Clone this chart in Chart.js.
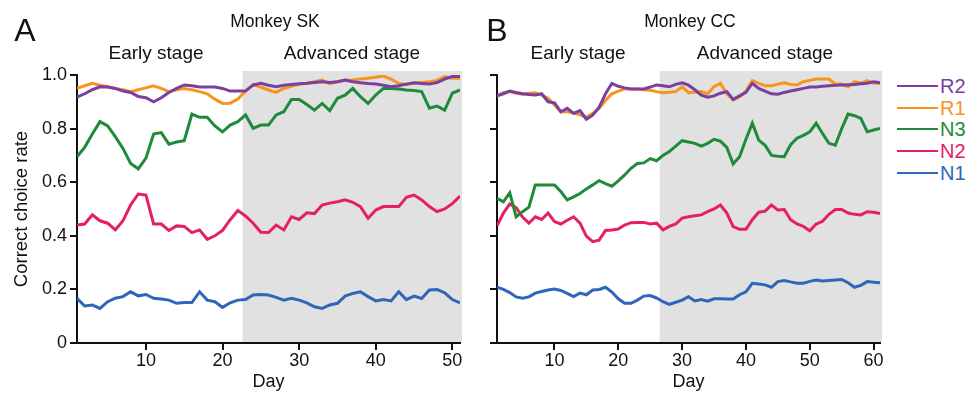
<!DOCTYPE html>
<html>
<head>
<meta charset="utf-8">
<script src="https://cdn.jsdelivr.net/npm/chart.js@4.4.1/dist/chart.umd.min.js"></script>
<style>
  body { margin: 0; background: #fff; width: 969px; height: 393px; position: relative; overflow: hidden; font-family: 'Liberation Sans', Arial, sans-serif; color: #111; }
  .box { position: absolute; top: 0; width: 470px; height: 393px; }
  .t { position: absolute; white-space: nowrap; transform: translate(-50%, -50%); }
  .leg { position: absolute; left: 897px; width: 70px; height: 22px; }
  .leg span.l { position: absolute; left: 0; top: 10px; width: 41px; height: 2px; }
  .leg span.n { position: absolute; left: 43px; top: 0; font-size: 20px; line-height: 22px; }
</style>
</head>
<body>
<div class="box" style="left:0"><canvas id="chartA" width="470" height="393"></canvas></div>
<div class="box" style="left:420px"><canvas id="chartB" width="470" height="393"></canvas></div>

<div class="t" style="left:25px;top:30px;font-size:32px">A</div>
<div class="t" style="left:275px;top:21px;font-size:17.5px">Monkey SK</div>
<div class="t" style="left:156px;top:53px;font-size:19px">Early stage</div>
<div class="t" style="left:352px;top:53px;font-size:19px">Advanced stage</div>
<div class="t" style="left:497px;top:30px;font-size:32px">B</div>
<div class="t" style="left:690px;top:21px;font-size:17.5px">Monkey CC</div>
<div class="t" style="left:578px;top:53px;font-size:19px">Early stage</div>
<div class="t" style="left:765px;top:53px;font-size:19px">Advanced stage</div>

<div id="legend"></div>

<script>
// series names and colours
const seriesNames = ['R2', 'R1', 'N3', 'N2', 'N1'];
const seriesColors = ['#7b3fa1', '#f7941d', '#1e8a3a', '#e6205f', '#3066ba'];

// Monkey SK, days 1..51
const skR2 = [0.917,0.93,0.945,0.956,0.955,0.95,0.94,0.935,0.92,0.915,0.90,0.915,0.935,0.95,0.963,0.96,0.955,0.955,0.955,0.95,0.94,0.94,0.94,0.963,0.969,0.962,0.956,0.962,0.965,0.967,0.969,0.972,0.975,0.972,0.975,0.981,0.975,0.971,0.968,0.966,0.962,0.956,0.96,0.966,0.971,0.968,0.966,0.972,0.985,0.994,0.994];
const skR1 = [0.95,0.96,0.969,0.962,0.956,0.95,0.945,0.938,0.945,0.952,0.96,0.95,0.938,0.945,0.95,0.945,0.938,0.93,0.91,0.894,0.895,0.91,0.94,0.963,0.955,0.944,0.935,0.95,0.958,0.965,0.969,0.975,0.981,0.968,0.975,0.98,0.981,0.985,0.988,0.992,0.996,0.985,0.968,0.965,0.969,0.972,0.975,0.98,0.994,0.988,0.988];
const skN3 = [0.695,0.73,0.78,0.826,0.81,0.77,0.726,0.67,0.65,0.69,0.78,0.785,0.742,0.75,0.755,0.854,0.842,0.842,0.81,0.788,0.813,0.826,0.851,0.801,0.813,0.813,0.851,0.863,0.909,0.909,0.89,0.869,0.894,0.867,0.913,0.925,0.95,0.919,0.894,0.925,0.95,0.95,0.948,0.944,0.942,0.938,0.876,0.884,0.869,0.932,0.944];
const skN2 = [0.44,0.444,0.478,0.456,0.447,0.422,0.456,0.515,0.556,0.552,0.444,0.444,0.42,0.437,0.435,0.412,0.422,0.387,0.40,0.42,0.46,0.494,0.474,0.447,0.413,0.412,0.44,0.422,0.471,0.461,0.486,0.483,0.515,0.522,0.527,0.534,0.525,0.509,0.465,0.496,0.509,0.509,0.509,0.544,0.552,0.534,0.509,0.49,0.5,0.52,0.548];
const skN1 = [0.167,0.138,0.142,0.129,0.154,0.167,0.173,0.191,0.176,0.181,0.167,0.164,0.16,0.148,0.151,0.151,0.191,0.16,0.154,0.133,0.15,0.16,0.162,0.179,0.181,0.179,0.17,0.16,0.167,0.16,0.15,0.135,0.129,0.142,0.148,0.175,0.185,0.191,0.173,0.157,0.162,0.157,0.191,0.162,0.175,0.166,0.198,0.2,0.187,0.162,0.15];

// Monkey CC, days 1..61
const ccR2 = [0.922,0.93,0.94,0.935,0.93,0.927,0.925,0.93,0.90,0.896,0.863,0.876,0.857,0.867,0.835,0.85,0.88,0.93,0.969,0.958,0.952,0.948,0.948,0.948,0.955,0.963,0.96,0.956,0.965,0.971,0.962,0.945,0.925,0.917,0.922,0.932,0.938,0.909,0.922,0.935,0.969,0.95,0.94,0.93,0.928,0.935,0.94,0.945,0.95,0.955,0.955,0.958,0.96,0.962,0.963,0.964,0.965,0.967,0.969,0.975,0.971];
const ccR1 = [0.922,0.935,0.938,0.932,0.928,0.932,0.934,0.925,0.913,0.888,0.863,0.863,0.858,0.851,0.842,0.857,0.875,0.905,0.93,0.94,0.948,0.948,0.948,0.945,0.943,0.938,0.934,0.936,0.938,0.956,0.934,0.936,0.938,0.93,0.956,0.969,0.93,0.907,0.919,0.94,0.979,0.969,0.96,0.96,0.966,0.971,0.965,0.963,0.975,0.98,0.985,0.985,0.985,0.966,0.966,0.955,0.975,0.969,0.979,0.969,0.969];
const ccN3 = [0.54,0.527,0.561,0.471,0.49,0.507,0.59,0.59,0.59,0.59,0.565,0.534,0.545,0.558,0.575,0.59,0.606,0.595,0.585,0.605,0.627,0.652,0.67,0.672,0.688,0.68,0.70,0.714,0.735,0.755,0.75,0.745,0.735,0.745,0.76,0.753,0.73,0.668,0.695,0.76,0.82,0.757,0.738,0.70,0.697,0.695,0.74,0.764,0.775,0.788,0.82,0.782,0.745,0.738,0.80,0.854,0.848,0.838,0.788,0.795,0.801];
const ccN2 = [0.437,0.485,0.519,0.505,0.47,0.447,0.471,0.461,0.485,0.453,0.444,0.458,0.471,0.447,0.399,0.378,0.384,0.42,0.422,0.425,0.44,0.449,0.45,0.45,0.444,0.447,0.422,0.435,0.444,0.466,0.471,0.475,0.478,0.49,0.5,0.515,0.485,0.434,0.424,0.424,0.46,0.488,0.492,0.515,0.496,0.498,0.46,0.444,0.435,0.419,0.444,0.454,0.48,0.498,0.498,0.485,0.48,0.478,0.49,0.488,0.483];
const ccN1 = [0.208,0.2,0.188,0.172,0.167,0.172,0.186,0.192,0.198,0.201,0.196,0.185,0.173,0.186,0.18,0.198,0.2,0.208,0.19,0.165,0.148,0.148,0.16,0.175,0.177,0.168,0.154,0.144,0.152,0.16,0.173,0.157,0.162,0.156,0.165,0.165,0.164,0.164,0.18,0.191,0.223,0.22,0.217,0.208,0.229,0.233,0.228,0.223,0.223,0.23,0.235,0.231,0.233,0.235,0.237,0.225,0.208,0.215,0.229,0.227,0.225];

const xTicksA = [10, 20, 30, 40, 50];
const xTicksB = [10, 20, 30, 40, 50, 60];
const yTicks = [0, 0.2, 0.4, 0.6, 0.8, 1.0];
const advancedStartA = 22.6; // day where the grey "advanced stage" begins
const advancedStartB = 26.5;

const FONT = "'Liberation Sans', Arial, sans-serif";

// grey band for the advanced stage
const stagePlugin = {
  id: 'stage',
  beforeDraw(chart, args, opts) {
    const {ctx, chartArea, scales} = chart;
    const x0 = scales.x.getPixelForValue(opts.start);
    ctx.save();
    ctx.fillStyle = '#e1e1e1';
    ctx.fillRect(x0, chartArea.top - 4, chartArea.right + 2 - x0, chartArea.bottom - chartArea.top + 3);
    ctx.restore();
  }
};

function makeChart(id, seriesList, maxDay, xTicks, stageStart, showY) {
  const datasets = seriesList.map((vals, i) => ({
    label: seriesNames[i],
    data: vals.map((v, k) => ({x: k + 1, y: v})),
    borderColor: seriesColors[i],
    borderWidth: 3,
    pointRadius: 0,
    tension: 0,
    fill: false
  }));
  return new Chart(document.getElementById(id), {
    type: 'line',
    data: {datasets},
    plugins: [stagePlugin],
    options: {
      responsive: false,
      animation: false,
      layout: {padding: {top: 75, right: 10, left: 0, bottom: 0}},
      plugins: {legend: {display: false}, tooltip: {enabled: false}, stage: {start: stageStart}},
      scales: {
        x: {
          type: 'linear', min: 1, max: maxDay,
          afterBuildTicks: s => { s.ticks = xTicks.map(v => ({value: v})); },
          afterFit: s => { s.height = 50; },
          grid: {drawOnChartArea: false, drawTicks: true, tickLength: 7, color: '#111', lineWidth: 2},
          border: {display: true, color: '#111', width: 2},
          ticks: {color: '#111', font: {family: FONT, size: 18}, padding: 0, maxRotation: 0},
          title: {display: true, text: 'Day', color: '#111', font: {family: FONT, size: 18}, padding: {top: 0, bottom: 0}}
        },
        y: {
          min: 0, max: 1,
          afterBuildTicks: s => { s.ticks = yTicks.map(v => ({value: v})); },
          afterFit: s => { s.width = 77; },
          grid: {drawOnChartArea: false, drawTicks: true, tickLength: 7, color: '#111', lineWidth: 2},
          border: {display: true, color: '#111', width: 2},
          ticks: {
            display: showY, color: '#111', font: {family: FONT, size: 18}, padding: 3,
            callback: v => v === 0 ? '0' : v.toFixed(1)
          },
          title: {display: showY, text: 'Correct choice rate', color: '#111', font: {family: FONT, size: 18.5}, padding: {top: 11, bottom: 0}}
        }
      }
    }
  });
}

makeChart('chartA', [skR2, skR1, skN3, skN2, skN1], 51, xTicksA, advancedStartA, true);
makeChart('chartB', [ccR2, ccR1, ccN3, ccN2, ccN1], 61, xTicksB, advancedStartB, false);

// legend on the right
const legend = document.getElementById('legend');
seriesNames.forEach((name, i) => {
  const d = document.createElement('div');
  d.className = 'leg';
  d.style.top = (75 + i * 21.7) + 'px';
  d.innerHTML = '<span class="l" style="background:' + seriesColors[i] + '"></span><span class="n" style="color:' + seriesColors[i] + '">' + name + '</span>';
  legend.appendChild(d);
});
</script>
</body>
</html>
